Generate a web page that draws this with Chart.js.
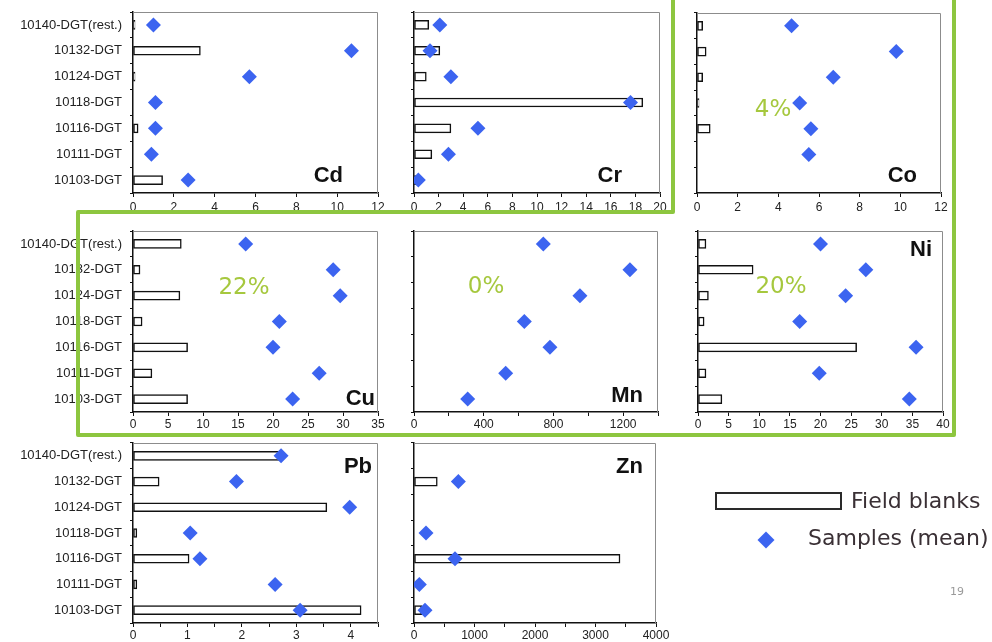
<!DOCTYPE html>
<html>
<head>
<meta charset="utf-8">
<script src="https://cdn.jsdelivr.net/npm/chart.js@4/dist/chart.umd.min.js"></script>
<style>
  body { margin: 0; background: #fff; }
  #page { position: relative; width: 992px; height: 642px; overflow: hidden; background: #fff; }
  #page canvas { position: absolute; }
  #frame { position: absolute; left: 0; top: 0; pointer-events: none; }
  .leg { position: absolute; font: 22px "DejaVu Sans", sans-serif; color: #3a3035; line-height: 24px; white-space: nowrap; }
  #legBox { position: absolute; left: 715px; top: 492px; width: 127px; height: 18px; box-sizing: border-box; border: 2px solid #2a2a2a; background: #fff; }
  #legDiamond { position: absolute; left: 760px; top: 534px; width: 12px; height: 12px; background: #3c64f0; transform: rotate(45deg); }
  #pageNo { position: absolute; left: 950px; top: 585px; font: 11px "DejaVu Sans", sans-serif; color: #9a9a9a; }
</style>
</head>
<body>
<div id="page">
  <canvas id="cd"></canvas>
  <canvas id="cr"></canvas>
  <canvas id="co"></canvas>
  <canvas id="cu"></canvas>
  <canvas id="mn"></canvas>
  <canvas id="ni"></canvas>
  <canvas id="pb"></canvas>
  <canvas id="zn"></canvas>

  <svg id="frame" width="992" height="642">
    <polyline points="673,-5 673,212 78,212 78,435 954,435 954,-5" fill="none" stroke="#8dc63f" stroke-width="4" stroke-linejoin="round"/>
  </svg>

  <div id="legBox"></div>
  <div class="leg" style="left:851px; top:489px;">Field blanks</div>
  <div id="legDiamond"></div>
  <div class="leg" style="left:808px; top:526px;">Samples (mean)</div>
  <div id="pageNo">19</div>
</div>

<script>
// sites, top to bottom
const sites = ["10140-DGT(rest.)", "10132-DGT", "10124-DGT", "10118-DGT", "10116-DGT", "10111-DGT", "10103-DGT"];

// field blanks (bars) and sample means (diamonds), per element
const cdBlanks  = [0.1, 3.3, 0.1, null, 0.25, null, 1.45];
const cdSamples = [1.0, 10.7, 5.7, 1.1, 1.1, 0.9, 2.7];
const crBlanks  = [1.2, 2.1, 1.0, 18.6, 3.0, 1.45, 0.15];
const crSamples = [2.1, 1.3, 3.0, 17.6, 5.2, 2.8, 0.35];
const coBlanks  = [0.28, 0.45, 0.28, 0.1, 0.65, null, null];
const coSamples = [4.65, 9.8, 6.7, 5.05, 5.6, 5.5, null];
const cuBlanks  = [6.9, 1.0, 6.7, 1.3, 7.8, 2.7, 7.8];
const cuSamples = [16.1, 28.6, 29.6, 20.9, 20.0, 26.6, 22.8];
const mnBlanks  = [null, null, null, null, null, null, null];
const mnSamples = [742, 1239, 952, 633, 780, 526, 308];
const niBlanks  = [1.3, 9.0, 1.7, 1.0, 25.9, 1.3, 3.9];
const niSamples = [20.0, 27.4, 24.1, 16.6, 35.6, 19.8, 34.5];
const pbBlanks  = [2.69, 0.48, 3.56, 0.07, 1.03, 0.07, 4.19];
const pbSamples = [2.72, 1.9, 3.98, 1.05, 1.23, 2.61, 3.07];
const znBlanks  = [null, 385, null, null, 3405, null, 127];
const znSamples = [null, 733, null, 198, 678, 88, 182];

// x tick labels shown on each panel
const cdTicks = [0, 2, 4, 6, 8, 10, 12];
const crTicks = [0, 2, 4, 6, 8, 10, 12, 14, 16, 18, 20];
const coTicks = [0, 2, 4, 6, 8, 10, 12];
const cuTicks = [0, 5, 10, 15, 20, 25, 30, 35];
const mnTicks = [0, 400, 800, 1200];
const niTicks = [0, 5, 10, 15, 20, 25, 30, 35, 40];
const pbTicks = [0, 1, 2, 3, 4];
const znTicks = [0, 1000, 2000, 3000, 4000];

const BLUE = "#3c64f0";
const PCT_GREEN = "#a6c83e";

// frame top/right, % label, element name
const panelDecor = {
    id: "panelDecor",
    beforeDatasetsDraw(chart, args, o) {
        const ctx = chart.ctx, a = chart.chartArea;
        ctx.save();
        ctx.strokeStyle = "#8c8c8c";
        ctx.lineWidth = 1;
        ctx.beginPath();
        ctx.moveTo(a.left, a.top + 0.5);
        ctx.lineTo(a.right - 0.5, a.top + 0.5);
        ctx.lineTo(a.right - 0.5, a.bottom);
        ctx.stroke();
        if (o.pct) {
            ctx.font = '23px "DejaVu Sans"';
            ctx.fillStyle = PCT_GREEN;
            ctx.textAlign = "center";
            ctx.textBaseline = "middle";
            ctx.fillText(o.pct, a.left + o.pctX, a.top + o.pctY);
        }
        ctx.restore();
    },
    afterDatasetsDraw(chart, args, o) {
        const ctx = chart.ctx, a = chart.chartArea;
        ctx.save();
        ctx.font = 'bold 22px "Liberation Sans", Arial';
        ctx.fillStyle = "#111";
        ctx.textAlign = "right";
        ctx.textBaseline = "alphabetic";
        const y = o.nameTop ? a.top + o.nameDy : a.bottom - o.nameDy;
        ctx.fillText(o.name, a.right - o.nameDx, y);
        ctx.restore();
    }
};

function makePanel(id, box, blanks, samples, tickLabels, xMax, step, deco) {
    const firstCol = box.left < 200;
    const yW = firstCol ? box.left : 8;
    const padTop = 22, padR = 18;
    const xH = box.bottom > 600 ? 19 : 24;
    const tickPad = box.top < 100 ? 3 : 1;
    const cv = document.getElementById(id);
    cv.width = yW + (box.right - box.left) + padR;
    cv.height = padTop + (box.bottom - box.top) + xH;
    cv.style.left = (box.left - yW) + "px";
    cv.style.top = (box.top - padTop) + "px";

    return new Chart(cv, {
        type: "bar",
        data: {
            labels: sites,
            datasets: [{
                type: "bar",
                label: "Field blanks",
                data: blanks,
                backgroundColor: "#fff",
                borderColor: "#111",
                borderWidth: 1.5,
                borderSkipped: false,
                barThickness: 9,
                order: 2
            }, {
                type: "line",
                label: "Samples (mean)",
                indexAxis: "y",
                data: samples,
                showLine: false,
                pointStyle: "rectRot",
                pointRadius: 7.5,
                pointBackgroundColor: BLUE,
                pointBorderColor: BLUE,
                pointBorderWidth: 0,
                order: 1
            }]
        },
        options: {
            indexAxis: "y",
            responsive: false,
            animation: false,
            devicePixelRatio: 1,
            layout: {padding: {top: padTop, right: padR, left: 0, bottom: 0}},
            plugins: {
                legend: {display: false},
                tooltip: {enabled: false},
                panelDecor: deco
            },
            scales: {
                x: {
                    type: "linear",
                    min: 0,
                    max: xMax,
                    afterFit: s => { s.height = xH; },
                    border: {display: true, color: "#111", width: 1.5},
                    grid: {drawOnChartArea: false, drawTicks: true, tickLength: 4, color: "#111"},
                    ticks: {
                        stepSize: step,
                        autoSkip: false,
                        maxRotation: 0,
                        padding: tickPad,
                        color: "#222",
                        font: {family: '"Liberation Sans", Arial', size: 12},
                        callback: v => tickLabels.includes(v) ? String(v) : ""
                    }
                },
                y: {
                    type: "category",
                    offset: true,
                    afterFit: s => { s.width = yW; },
                    border: {display: true, color: "#111", width: 1.5},
                    grid: {offset: true, drawOnChartArea: false, drawTicks: true, tickLength: 3, color: "#111"},
                    ticks: {
                        display: firstCol,
                        padding: 8,
                        color: "#222",
                        font: {family: '"Liberation Sans", Arial', size: 13}
                    }
                }
            }
        },
        plugins: [panelDecor]
    });
}

makePanel("cd", {left: 133, top: 12, right: 378, bottom: 193}, cdBlanks, cdSamples, cdTicks, 12, 2,
    {name: "Cd", nameDx: 35, nameDy: 11});
makePanel("cr", {left: 414, top: 12, right: 660, bottom: 193}, crBlanks, crSamples, crTicks, 20, 2,
    {name: "Cr", nameDx: 38, nameDy: 11});
makePanel("co", {left: 697, top: 13, right: 941, bottom: 193}, coBlanks, coSamples, coTicks, 12, 2,
    {name: "Co", nameDx: 24, nameDy: 11, pct: "4%", pctX: 76, pctY: 97});
makePanel("cu", {left: 133, top: 231, right: 378, bottom: 412}, cuBlanks, cuSamples, cuTicks, 35, 5,
    {name: "Cu", nameDx: 3, nameDy: 7, pct: "22%", pctX: 111, pctY: 57});
makePanel("mn", {left: 414, top: 231, right: 658, bottom: 412}, mnBlanks, mnSamples, mnTicks, 1400, 200,
    {name: "Mn", nameDx: 15, nameDy: 10, pct: "0%", pctX: 72, pctY: 56});
makePanel("ni", {left: 698, top: 231, right: 943, bottom: 412}, niBlanks, niSamples, niTicks, 40, 5,
    {name: "Ni", nameDx: 11, nameDy: 25, nameTop: true, pct: "20%", pctX: 83, pctY: 56});
makePanel("pb", {left: 133, top: 443, right: 378, bottom: 623}, pbBlanks, pbSamples, pbTicks, 4.5, 0.5,
    {name: "Pb", nameDx: 6, nameDy: 30, nameTop: true});
makePanel("zn", {left: 414, top: 443, right: 656, bottom: 623}, znBlanks, znSamples, znTicks, 4000, 500,
    {name: "Zn", nameDx: 13, nameDy: 30, nameTop: true});
</script>
</body>
</html>
